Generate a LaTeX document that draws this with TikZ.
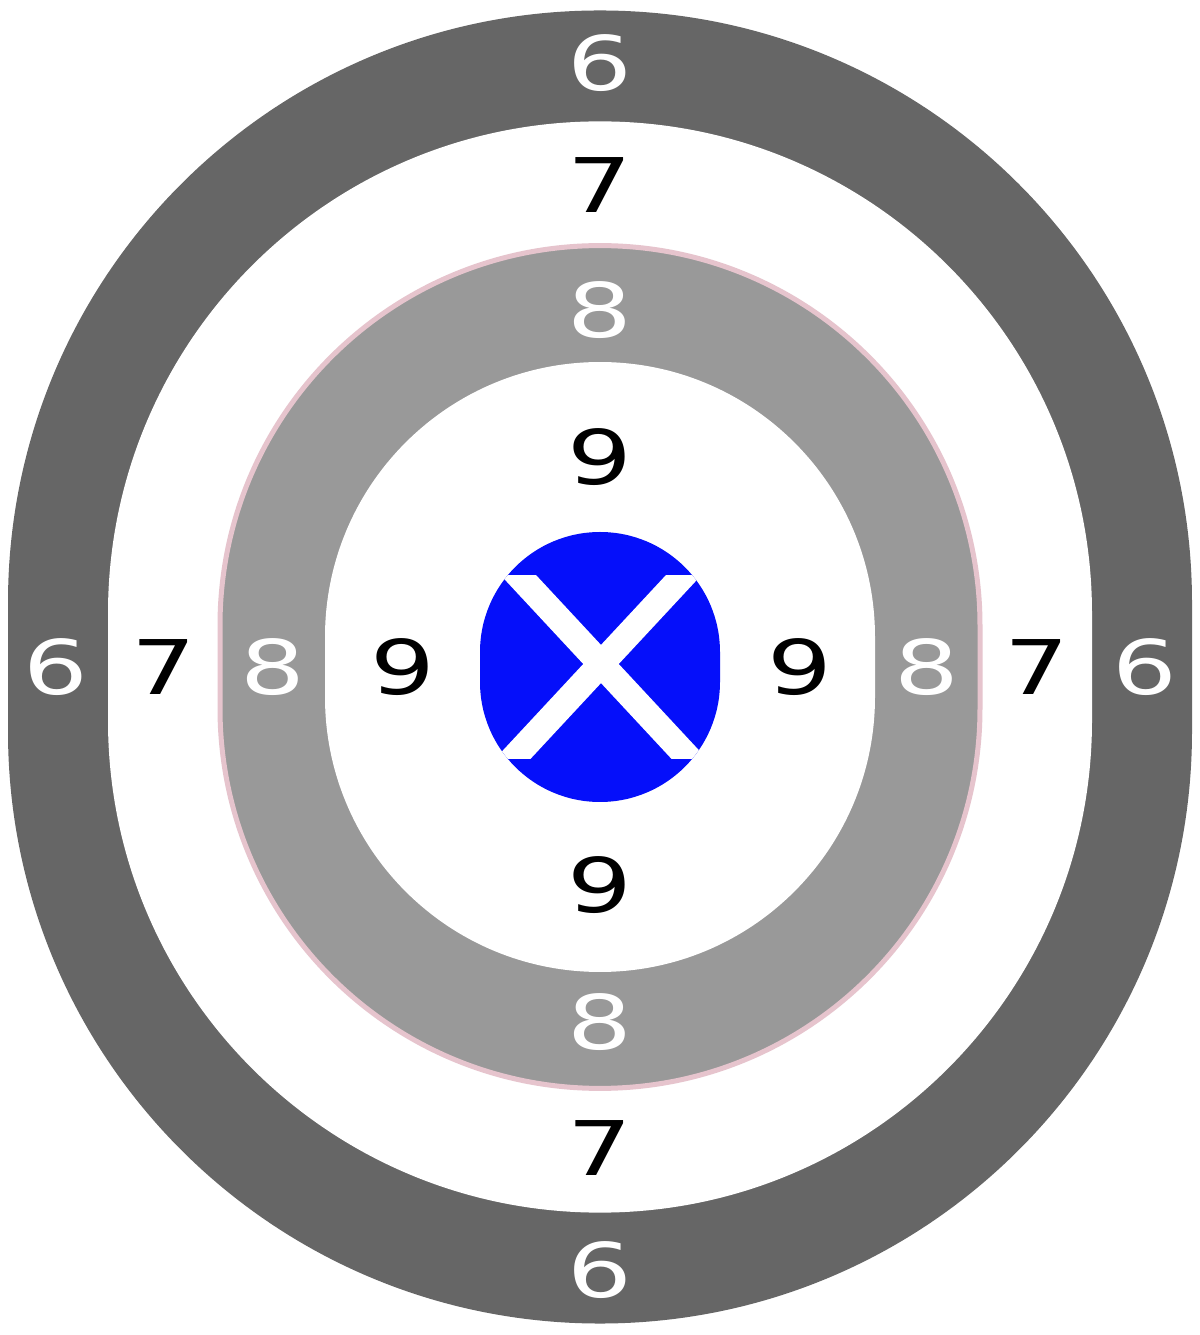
\documentclass[tikz,border=0pt]{standalone}
\usepackage{fontspec}
\setmainfont{DejaVu Sans}
\definecolor{darkring}{RGB}{102,102,102}
\definecolor{lightring}{RGB}{153,153,153}
\definecolor{pinkedge}{RGB}{230,196,205}
\definecolor{bullblue}{RGB}{5,15,250}
% stadium: half-width #1, half-straight = #2 * #1, round caps of radius #1
\newcommand\tgtpath[2]{({600-#1},{668+#2*#1}) arc[start angle=180,end angle=0,radius=#1] -- ({600+#1},{668-#2*#1}) arc[start angle=0,end angle=-180,radius=#1] -- cycle}
\newcommand\digitfont{\fontsize{37.7}{40}\selectfont}
\newcommand\widedigit[1]{\scalebox{1.35}[1]{#1}}
\begin{document}
\begin{tikzpicture}[x=0.5pt,y=0.5pt,
  lbl/.style={inner sep=0pt,font=\digitfont},
  wlbl/.style={lbl,text=white},
  blbl/.style={lbl,text=black}]
\useasboundingbox (0,0) rectangle (1200,1335);
\fill[white] (0,0) rectangle (1200,1335);
% rings
\path[fill=darkring] \tgtpath{592}{0.109};
\path[fill=white] \tgtpath{492}{0.109};
\path[fill=lightring,draw=pinkedge,line width=2.5pt] \tgtpath{380}{0.109};
\path[fill=white] \tgtpath{275}{0.109};
\path[fill=bullblue] \tgtpath{120}{0.125};
% X
\begin{scope}
  \clip \tgtpath{120}{0.125};
  \clip (400,576) rectangle (800,759);
  \draw[white,line width=13pt] ({601-0.93*160},{671+160}) -- ({601+0.93*160},{671-160});
  \draw[white,line width=13pt] ({601+0.93*160},{671+160}) -- ({601-0.93*160},{671-160});
\end{scope}
% labels
\node[wlbl] (s6t) at (600,1272) {\widedigit{6}};
\node[blbl] (s7t) at (600,1150) {\widedigit{7}};
\node[wlbl] (s8t) at (600,1025) {\widedigit{8}};
\node[blbl] (s9t) at (600,878) {\widedigit{9}};
\node[blbl] (s9b) at (600,450) {\widedigit{9}};
\node[wlbl] (s8b) at (600,313) {\widedigit{8}};
\node[blbl] (s7b) at (600,187) {\widedigit{7}};
\node[wlbl] (s6b) at (600,65) {\widedigit{6}};
\node[wlbl] (s6l) at (56,668) {\widedigit{6}};
\node[blbl] (s7l) at (164,668) {\widedigit{7}};
\node[wlbl] (s8l) at (273,668) {\widedigit{8}};
\node[blbl] (s9l) at (403,668) {\widedigit{9}};
\node[blbl] (s9r) at (800,668) {\widedigit{9}};
\node[wlbl] (s8r) at (927,668) {\widedigit{8}};
\node[blbl] (s7r) at (1037,668) {\widedigit{7}};
\node[wlbl] (s6r) at (1145,668) {\widedigit{6}};
\end{tikzpicture}
\end{document}
